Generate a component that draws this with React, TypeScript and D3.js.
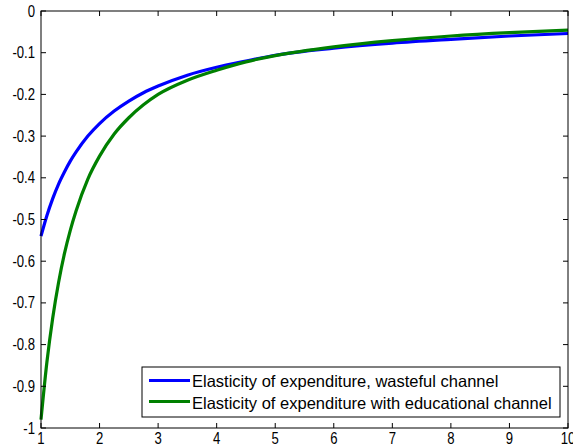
import React from "react";
import * as d3 from "d3";

const xValues = [1, 1.1, 1.2, 1.3, 1.4, 1.5, 1.6, 1.8, 2, 2.25, 2.5, 2.75, 3, 3.5, 4, 4.5, 5, 6, 7, 8, 9, 10];
const wastefulValues = [-0.54, -0.491, -0.45, -0.415, -0.386, -0.36, -0.338, -0.3, -0.27, -0.24, -0.216, -0.196, -0.18, -0.154, -0.135, -0.12, -0.106, -0.089, -0.077, -0.068, -0.06, -0.054];
const educationalValues = [-0.98, -0.843, -0.736, -0.651, -0.582, -0.526, -0.479, -0.403, -0.348, -0.295, -0.256, -0.225, -0.2, -0.166, -0.142, -0.122, -0.107, -0.086, -0.071, -0.06, -0.052, -0.046];
const xTicks = [1, 2, 3, 4, 5, 6, 7, 8, 9, 10];
const yTicks = [0, -0.1, -0.2, -0.3, -0.4, -0.5, -0.6, -0.7, -0.8, -0.9, -1];
const seriesNames = ["Elasticity of expenditure, wasteful channel", "Elasticity of expenditure with educational channel"];
const seriesColors = ["#0000ff", "#008000"];

const W = 573, H = 446;
const L = 41, R = 568, T = 11, B = 428;

export default function App() {
  const x = d3.scaleLinear().domain([1, 10]).range([L, R]);
  const y = d3.scaleLinear().domain([-1, 0]).range([B, T]);
  const line = d3.line<number>().x((_, i) => x(xValues[i])).y((d) => y(d)).curve(d3.curveMonotoneX);
  const series = [wastefulValues, educationalValues];
  const font = "'Liberation Sans', Arial, Helvetica, sans-serif";
  const tl = 5;
  const sx = 0.82;
  const fmt = (t: number) => (t === 0 ? "0" : t === -1 ? "-1" : String(t));
  return (
    <svg width={W} height={H} style={{ position: "absolute", left: 0, top: 0, background: "#fff" }} fontFamily={font}>
      <rect x={0} y={0} width={W} height={H} fill="#fff" />
      {series.map((s, i) => (
        <path key={i} d={line(s) || ""} fill="none" stroke={seriesColors[i]} strokeWidth={3.2} />
      ))}
      <rect x={L} y={T} width={R - L} height={B - T} fill="none" stroke="#000" strokeWidth={1} />
      {xTicks.map((t) => (
        <g key={"x" + t}>
          <line x1={x(t)} x2={x(t)} y1={B} y2={B - tl} stroke="#000" />
          <line x1={x(t)} x2={x(t)} y1={T} y2={T + tl} stroke="#000" />
          <text transform={`translate(${x(t)},${B + 15.5}) scale(${sx},1)`} fontSize={16} textAnchor="middle">{t}</text>
        </g>
      ))}
      {yTicks.map((t) => (
        <g key={"y" + t}>
          <line x1={L} x2={L + tl} y1={y(t)} y2={y(t)} stroke="#000" />
          <line x1={R} x2={R - tl} y1={y(t)} y2={y(t)} stroke="#000" />
          <text transform={`translate(${L - 6},${y(t) + 5.5}) scale(${sx},1)`} fontSize={16} textAnchor="end">{fmt(t)}</text>
        </g>
      ))}
      <rect x={142} y={367} width={418} height={50} fill="#fff" stroke="#000" strokeWidth={1} />
      {seriesNames.map((n, i) => (
        <g key={n}>
          <line x1={149} x2={190} y1={380.5 + i * 21} y2={380.5 + i * 21} stroke={seriesColors[i]} strokeWidth={3.2} />
          <text x={192} y={387 + i * 21.5} fontSize={16.5}>{n}</text>
        </g>
      ))}
    </svg>
  );
}
